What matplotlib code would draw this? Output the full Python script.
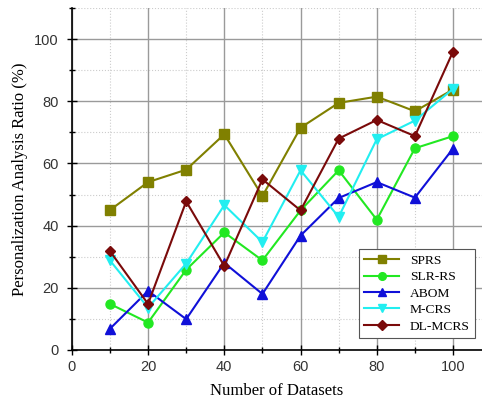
import matplotlib
matplotlib.use("Agg")
import matplotlib.pyplot as plt
from matplotlib.ticker import MultipleLocator

x = [10, 20, 30, 40, 50, 60, 70, 80, 90, 100]
sprs = [45, 54, 58, 69.4, 49.5, 71.5, 79.5, 81.5, 76.8, 83.8]
slr_rs = [14.8, 8.8, 25.8, 37.8, 28.8, 44.9, 57.8, 41.9, 64.9, 68.8]
abom = [6.8, 19, 9.9, 28, 18, 36.8, 48.9, 54, 49, 64.8]
m_crs = [28.8, 13.6, 27.8, 46.6, 34.7, 57.8, 42.8, 67.8, 73.8, 84]
dl_mcrs = [31.8, 14.8, 47.8, 27, 54.9, 44.9, 68, 74, 68.8, 96]

series = [
    ("SPRS", sprs, "#808000", "s"),
    ("SLR-RS", slr_rs, "#22e822", "o"),
    ("ABOM", abom, "#1010d8", "^"),
    ("M-CRS", m_crs, "#22eef0", "v"),
    ("DL-MCRS", dl_mcrs, "#7a0a0a", "D"),
]

fig = plt.figure(figsize=(4.82, 4.05), dpi=100)
ax = fig.add_axes([0.149, 0.136, 0.851, 0.844])

for name, vals, col, mk in series:
    ax.plot(x, vals, color=col, marker=mk, markersize=6.5 if mk != "D" else 5.5,
            linewidth=1.5, label=name)

ax.set_xlim(0, 107.6)
ax.set_ylim(0, 110)
ax.xaxis.set_major_locator(MultipleLocator(20))
ax.xaxis.set_minor_locator(MultipleLocator(10))
ax.yaxis.set_major_locator(MultipleLocator(20))
ax.yaxis.set_minor_locator(MultipleLocator(10))
ax.set_xticks([0, 20, 40, 60, 80, 100])
ax.set_yticks([0, 20, 40, 60, 80, 100])
ax.grid(True, which="major", color="#9a9a9a", linewidth=1.0)
ax.grid(True, which="minor", color="#cccccc", linewidth=0.8, linestyle=":")
ax.set_axisbelow(True)

for s in ["top", "right"]:
    ax.spines[s].set_visible(False)
for s in ["left", "bottom"]:
    ax.spines[s].set_linewidth(1.2)
ax.tick_params(which="major", direction="inout", length=7, width=1.0, labelsize=10.5, pad=4)
ax.tick_params(which="minor", direction="inout", length=4, width=1.0)
ax.tick_params(axis="y", which="major", pad=6)
for lab in ax.get_xticklabels() + ax.get_yticklabels():
    lab.set_fontfamily("Liberation Sans")
    lab.set_color("#333333")

ax.set_xlabel("Number of Datasets", fontfamily="Liberation Serif", fontsize=12, labelpad=6)
ax.set_ylabel("Personalization Analysis Ratio (%)", fontfamily="Liberation Serif", fontsize=12, labelpad=4)

leg = ax.legend(loc="lower right", prop={"family": "Liberation Serif", "size": 9.7},
                fancybox=False, edgecolor="#555555", framealpha=1.0,
                handlelength=2.6, borderpad=0.4, labelspacing=0.3, markerscale=0.85,
                bbox_to_anchor=(1.0, 0.015))
leg.get_frame().set_linewidth(0.8)

fig.savefig("out.png", dpi=100)
